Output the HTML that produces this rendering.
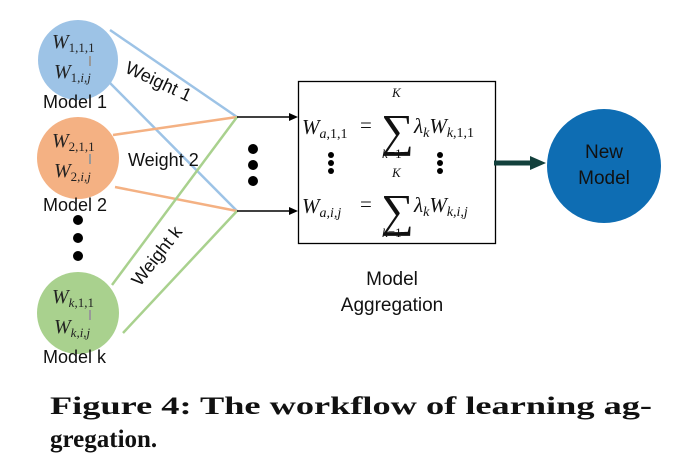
<!DOCTYPE html>
<html><head><style>
body{margin:0;background:#fff;width:688px;height:470px;overflow:hidden}
svg text{font-family:"Liberation Sans",sans-serif}
svg text.m{font-family:"Liberation Serif",serif;font-style:italic}
svg text.cap{font-family:"Liberation Serif",serif;font-weight:bold}
svg text.sum{font-family:"Liberation Serif",serif}
.u{font-style:normal}
</style></head><body>
<svg width="688" height="470" viewBox="0 0 688 470">
<g stroke-width="2.5" fill="none">
<line x1="110" y1="30" x2="237" y2="117" stroke="#9dc3e6"/>
<line x1="110" y1="83" x2="237" y2="211" stroke="#9dc3e6"/>
<line x1="113" y1="135" x2="237" y2="117" stroke="#f4b183"/>
<line x1="115" y1="187" x2="237" y2="211" stroke="#f4b183"/>
<line x1="112" y1="285" x2="237" y2="117" stroke="#a9d18e"/>
<line x1="123" y1="333" x2="237" y2="211" stroke="#a9d18e"/>
</g>
<circle cx="78" cy="60" r="40" fill="#9dc3e6"/>
<circle cx="78" cy="158" r="41" fill="#f4b183"/>
<circle cx="78" cy="313" r="41" fill="#a9d18e"/>
<g font-size="20" fill="#222">
<text x="52" y="48" class="m">W<tspan class="u" font-size="13" dy="4">1,1,1</tspan></text>
<text x="54" y="78" class="m">W<tspan class="u" font-size="13" dy="4">1,</tspan><tspan font-size="13">i,j</tspan></text>
<text x="52" y="147" class="m">W<tspan class="u" font-size="13" dy="4">2,1,1</tspan></text>
<text x="54" y="177" class="m">W<tspan class="u" font-size="13" dy="4">2,</tspan><tspan font-size="13">i,j</tspan></text>
<text x="52" y="303" class="m">W<tspan font-size="13" dy="4">k</tspan><tspan class="u" font-size="13">,1,1</tspan></text>
<text x="54" y="333" class="m">W<tspan font-size="13" dy="4">k,i,j</tspan></text>
</g>
<g fill="#999"><rect x="89" y="56" width="2" height="10"/><rect x="89" y="154" width="2" height="10"/><rect x="89" y="310" width="2" height="10"/></g>
<g font-size="18" fill="#111">
<text x="43" y="108">Model 1</text>
<text x="43" y="211">Model 2</text>
<text x="43" y="363">Model k</text>
<text x="128" y="166">Weight 2</text>
<text transform="translate(124,72) rotate(25)">Weight 1</text>
<text transform="translate(140,287) rotate(-52)">Weight k</text>
</g>
<g fill="#000">
<circle cx="78" cy="220" r="5"/><circle cx="78" cy="238" r="5"/><circle cx="78" cy="256" r="5"/>
<circle cx="253" cy="149" r="5"/><circle cx="253" cy="165" r="5"/><circle cx="253" cy="181" r="5"/>
</g>
<g stroke="#000" stroke-width="1.5">
<line x1="237" y1="117" x2="292" y2="117"/><line x1="237" y1="211" x2="292" y2="211"/>
</g>
<polygon points="298,117 289,113 289,121" fill="#000"/>
<polygon points="298,211 289,207 289,215" fill="#000"/>
<rect x="298.5" y="81.5" width="197" height="162" fill="none" stroke="#000" stroke-width="1.3"/>
<g font-size="21" fill="#111">
<text x="302" y="134" class="m">W<tspan font-size="14" dy="4">a</tspan><tspan class="u" font-size="14">,1,1</tspan></text>
<text x="360" y="132" class="sum">=</text>
<text x="381" y="146" font-size="46" class="sum">∑</text>
<text x="392" y="97" font-size="13" class="m">K</text>
<text x="382" y="158" font-size="13" class="m">k<tspan class="u">=1</tspan></text>
<text x="414" y="133" class="m">λ<tspan font-size="14" dy="4">k</tspan><tspan dy="-4">W</tspan><tspan font-size="14" dy="4">k</tspan><tspan class="u" font-size="14">,1,1</tspan></text>
<text x="302" y="213" class="m">W<tspan font-size="14" dy="4">a,i,j</tspan></text>
<text x="360" y="211" class="sum">=</text>
<text x="381" y="226" font-size="46" class="sum">∑</text>
<text x="392" y="177" font-size="13" class="m">K</text>
<text x="382" y="237" font-size="13" class="m">k<tspan class="u">=1</tspan></text>
<text x="414" y="212" class="m">λ<tspan font-size="14" dy="4">k</tspan><tspan dy="-4">W</tspan><tspan font-size="14" dy="4">k,i,j</tspan></text>
</g>
<g fill="#000"><circle cx="331" cy="155" r="3"/><circle cx="331" cy="163" r="3"/><circle cx="331" cy="171" r="3"/>
<circle cx="440" cy="155" r="3"/><circle cx="440" cy="163" r="3"/><circle cx="440" cy="171" r="3"/></g>
<line x1="494" y1="163" x2="532" y2="163" stroke="#12403c" stroke-width="5"/>
<polygon points="546,163 530,156 530,170" fill="#12403c"/>
<circle cx="604" cy="166" r="57" fill="#0e6db3"/>
<text x="604" y="158" font-size="19" text-anchor="middle" fill="#111">New</text>
<text x="604" y="184" font-size="19" text-anchor="middle" fill="#111">Model</text>
<text x="392" y="285" font-size="19" text-anchor="middle" fill="#111">Model</text>
<text x="392" y="311" font-size="19" text-anchor="middle" fill="#111">Aggregation</text>
<text x="50" y="414" class="cap" font-size="25" fill="#111" textLength="602" lengthAdjust="spacingAndGlyphs">Figure 4: The workflow of learning ag-</text>
<text x="50" y="447" class="cap" font-size="25" fill="#111">gregation.</text>
</svg>
</body></html>
